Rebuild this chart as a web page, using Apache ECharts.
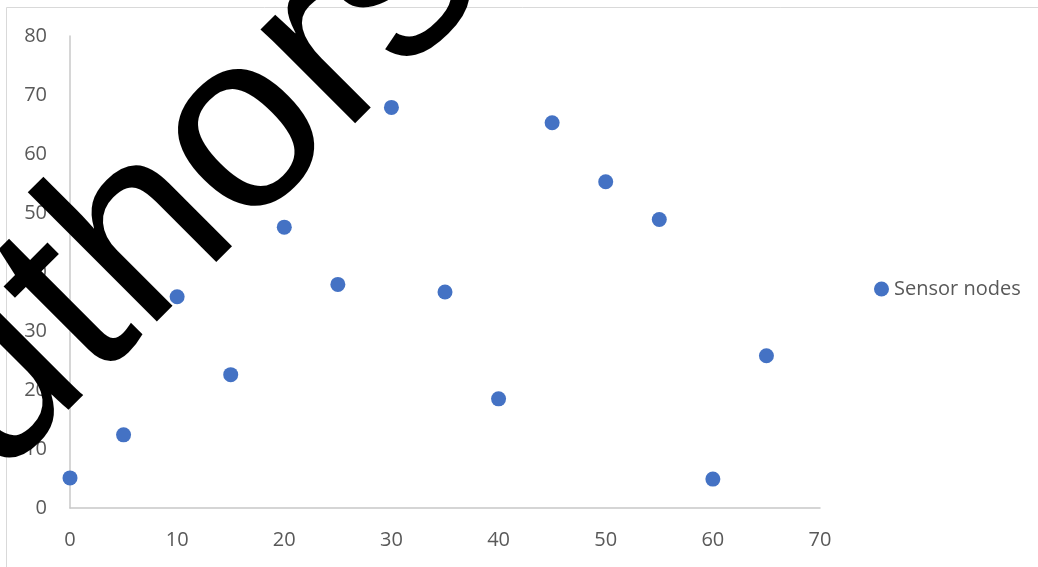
<!DOCTYPE html>
<html>
<head>
<meta charset="utf-8">
<script src="https://cdn.jsdelivr.net/npm/echarts@6/dist/echarts.min.js"></script>
<style>
  html, body { margin: 0; padding: 0; background: #ffffff; }
  #chart { width: 1038px; height: 567px; }
</style>
</head>
<body>
<div id="chart"></div>
<script>
// Data
const seriesName = 'Sensor nodes';
const xValues = [0, 5, 10, 15, 20, 25, 30, 35, 40, 45, 50, 55, 60, 65];
const yValues = [5.1, 12.4, 35.8, 22.6, 47.6, 37.9, 67.9, 36.6, 18.5, 65.3, 55.3, 48.9, 4.9, 25.8];
const xAxisRange = { min: 0, max: 70, interval: 10 };
const yAxisRange = { min: 0, max: 80, interval: 10 };
const watermarkText = 'Authors';

const points = xValues.map((x, i) => [x, yValues[i]]);

const chart = echarts.init(document.getElementById('chart'), null, { renderer: 'canvas' });
const labelFont = { color: '#595959', fontSize: 20, fontFamily: 'Open Sans' };

chart.setOption({
  animation: false,
  backgroundColor: '#ffffff',
  grid: { left: 70, right: 218, top: 36, bottom: 59, containLabel: false },
  legend: {
    show: true,
    orient: 'vertical',
    left: 869,
    top: 274,
    itemWidth: 15,
    itemHeight: 15,
    itemGap: 5,
    icon: 'circle',
    textStyle: labelFont,
    data: [seriesName]
  },
  xAxis: {
    type: 'value',
    min: xAxisRange.min,
    max: xAxisRange.max,
    interval: xAxisRange.interval,
    axisLine: { show: true, onZero: false, lineStyle: { color: '#c8c8c8', width: 1.5 } },
    axisTick: { show: false },
    splitLine: { show: false },
    axisLabel: Object.assign({ margin: 22 }, labelFont)
  },
  yAxis: {
    type: 'value',
    min: yAxisRange.min,
    max: yAxisRange.max,
    interval: yAxisRange.interval,
    axisLine: { show: true, onZero: false, lineStyle: { color: '#c8c8c8', width: 1.5 } },
    axisTick: { show: false },
    splitLine: { show: false },
    axisLabel: Object.assign({ margin: 23 }, labelFont)
  },
  series: [{
    name: seriesName,
    type: 'scatter',
    symbol: 'circle',
    symbolSize: 15,
    itemStyle: { color: '#4472C4', opacity: 1 },
    data: points
  }],
  graphic: [
    {
      type: 'rect',
      z: 0,
      silent: true,
      shape: { x: 6.5, y: 7.5, width: 1200, height: 700 },
      style: { fill: 'none', stroke: '#d9d9d9', lineWidth: 1 }
    },
    {
      type: 'text',
      z: 100,
      silent: true,
      x: -172,
      y: 552,
      rotation: Math.PI / 4,
      style: {
        text: watermarkText,
        font: '252px "Liberation Sans"',
        fill: '#000000',
        align: 'left',
        verticalAlign: 'middle'
      }
    }
  ]
});
</script>
</body>
</html>
